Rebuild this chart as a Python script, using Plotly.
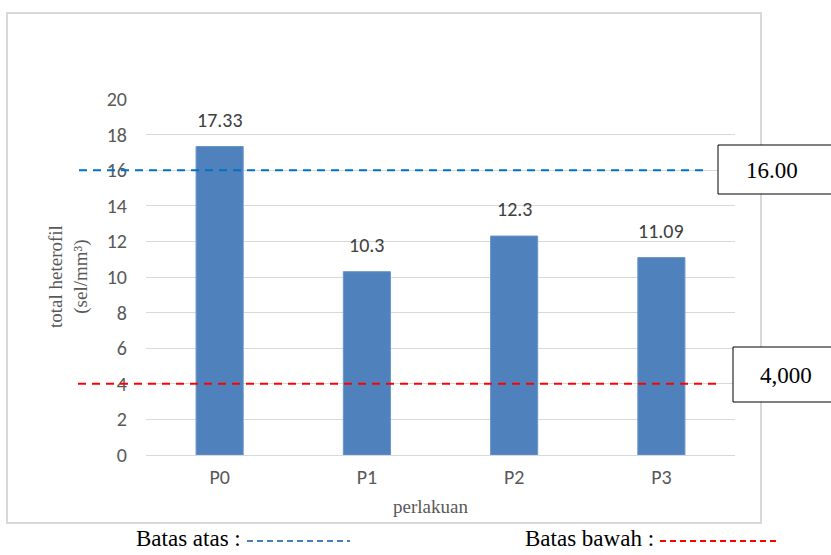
import plotly.graph_objects as go

# Data
categories = ["P0", "P1", "P2", "P3"]
values = [17.33, 10.3, 12.3, 11.09]
value_labels = ["17.33", "10.3", "12.3", "11.09"]
upper_limit = 16.0
lower_limit = 4.0
upper_label = "16.00"
lower_label = "4,000"
y_ticks = [0, 2, 4, 6, 8, 10, 12, 14, 16, 18, 20]

W, H = 831, 555
L, R, T, B = 146, 735, 99, 455  # plot area in pixels


def px(x):
    return (x - L) / (R - L)


def py(y):
    return (B - y) / (B - T)


fig = go.Figure()
fig.add_trace(go.Bar(
    x=categories, y=values,
    marker=dict(color="#4F81BD", line=dict(color="#6A96CB", width=1)),
    hoverinfo="skip",
))

sans = "Carlito, Lato, sans-serif"
serif = "Liberation Serif, Times New Roman, serif"
label_font = dict(family=sans, size=20, color="#404040")
for c, v, t in zip(categories, values, value_labels):
    fig.add_annotation(x=c, y=v, text=t, showarrow=False, xanchor="center",
                       yanchor="bottom", yshift=13, font=label_font)

shapes = []
# outer chart frame
shapes.append(dict(type="rect", xref="paper", yref="paper",
                   x0=px(7), x1=px(761), y0=py(523), y1=py(13),
                   line=dict(color="#D9D9D9", width=2), layer="below"))
# reference limit lines
shapes.append(dict(type="line", xref="paper", yref="y", x0=px(79), x1=px(704),
                   y0=upper_limit, y1=upper_limit,
                   line=dict(color="#0070C0", width=2, dash="8px,6px")))
shapes.append(dict(type="line", xref="paper", yref="y", x0=px(78), x1=px(718),
                   y0=lower_limit, y1=lower_limit,
                   line=dict(color="#FF0000", width=2, dash="8px,6px")))
# value boxes
shapes.append(dict(type="rect", xref="paper", yref="paper",
                   x0=px(718), x1=px(845), y0=py(194), y1=py(145),
                   line=dict(color="black", width=1), fillcolor="white"))
shapes.append(dict(type="rect", xref="paper", yref="paper",
                   x0=px(733), x1=px(845), y0=py(402), y1=py(347),
                   line=dict(color="black", width=1), fillcolor="white"))
# key line samples
shapes.append(dict(type="line", xref="paper", yref="paper", x0=px(247), x1=px(350),
                   y0=py(541), y1=py(541),
                   line=dict(color="#4A7EBB", width=2, dash="6px,4px")))
shapes.append(dict(type="line", xref="paper", yref="paper", x0=px(660), x1=px(778),
                   y0=py(541), y1=py(541),
                   line=dict(color="#FF0000", width=2, dash="6px,4px")))

def note(x, y, text, size, color="black", xanchor="center", angle=0):
    fig.add_annotation(xref="paper", yref="paper", x=px(x), y=py(y), text=text,
                       showarrow=False, xanchor=xanchor, yanchor="middle",
                       textangle=angle, font=dict(family=serif, size=size, color=color))

note(772, 170, upper_label, 23)
note(786, 375, lower_label, 23)
note(68, 277, "total heterofil<br>(sel/mm³)", 19, "#595959", angle=-90)
note(430, 507, "perlakuan", 19, "#595959")
note(243, 538, "Batas atas :", 23, xanchor="right")
note(656, 538, "Batas bawah :", 23, xanchor="right")

tick_font = dict(family=sans, size=20, color="#595959")
fig.update_layout(
    width=W, height=H,
    margin=dict(l=L, r=W - R, t=T, b=H - B),
    paper_bgcolor="white", plot_bgcolor="white",
    bargap=0.68, showlegend=False,
    shapes=shapes,
    xaxis=dict(showgrid=False, showline=False, ticks="", tickfont=tick_font,
               ticklabelstandoff=8),
    yaxis=dict(range=[0, 20], tickvals=y_ticks, showgrid=True, gridcolor="#D9D9D9",
               gridwidth=1, zeroline=True, zerolinecolor="#D9D9D9", zerolinewidth=1,
               showline=False, ticks="", tickfont=tick_font, ticklabelstandoff=18),
)

fig.write_html("out.html")
